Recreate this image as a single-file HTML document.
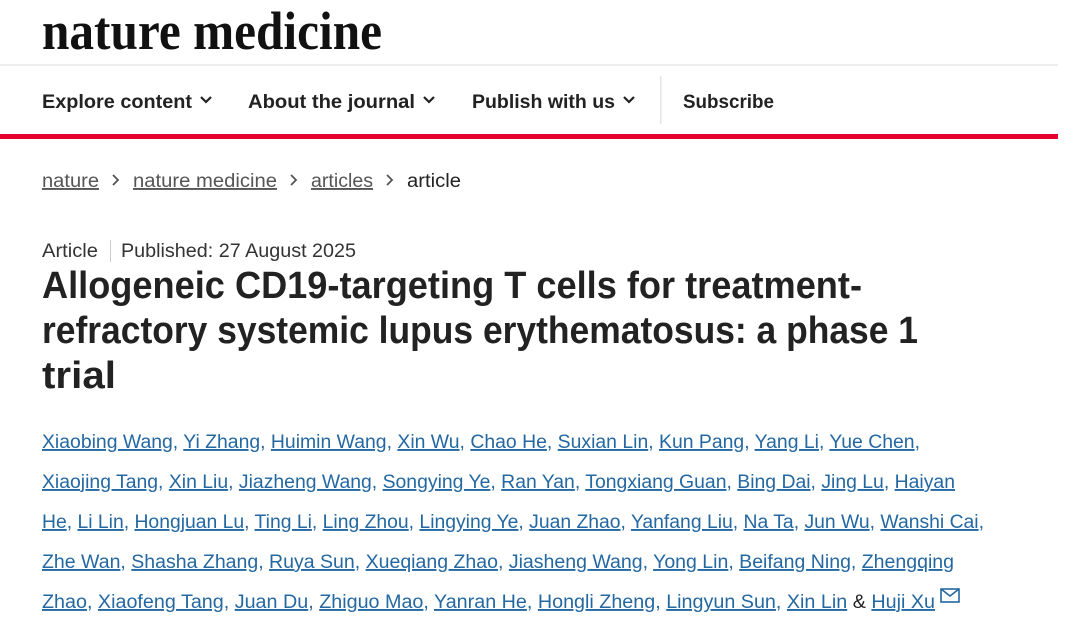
<!DOCTYPE html>
<html><head><meta charset="utf-8"><style>
html,body{margin:0;padding:0;background:#fff;width:1080px;height:620px;overflow:hidden}
svg text{font-family:"Liberation Sans",sans-serif}
.a{fill:#2468a2}
.a tspan.u{text-decoration:underline}
</style></head><body>
<svg width="1080" height="620" viewBox="0 0 1080 620" xmlns="http://www.w3.org/2000/svg">
<text x="42" y="49" font-weight="bold" font-size="54" textLength="340" lengthAdjust="spacingAndGlyphs" fill="#111" style="font-family:'Liberation Serif',serif">nature medicine</text>
<rect x="0" y="64" width="1058" height="2" fill="#eeeeee"/>
<g font-weight="bold" font-size="19" fill="#222">
<text x="42" y="108" textLength="150" lengthAdjust="spacingAndGlyphs">Explore content</text>
<text x="248" y="108" textLength="167" lengthAdjust="spacingAndGlyphs">About the journal</text>
<text x="472" y="108" textLength="143" lengthAdjust="spacingAndGlyphs">Publish with us</text>
<text x="683" y="108" textLength="91" lengthAdjust="spacingAndGlyphs">Subscribe</text>
</g>
<g fill="none" stroke="#222" stroke-width="2.2">
<path d="M201 97 l5 5 l5 -5"/><path d="M424 97 l5 5 l5 -5"/><path d="M624 97 l5 5 l5 -5"/>
</g>
<rect x="660" y="76" width="1.5" height="48" fill="#e4e4e4"/>
<rect x="0" y="134" width="1058" height="5" fill="#e4002b"/>
<g font-size="19">
<text x="42" y="187" fill="#555" textLength="57" lengthAdjust="spacingAndGlyphs" text-decoration="underline">nature</text>
<text x="133" y="187" fill="#555" textLength="144" lengthAdjust="spacingAndGlyphs" text-decoration="underline">nature medicine</text>
<text x="311" y="187" fill="#555" textLength="62" lengthAdjust="spacingAndGlyphs" text-decoration="underline">articles</text>
<text x="407" y="187" fill="#222" textLength="54" lengthAdjust="spacingAndGlyphs">article</text>
</g>
<g fill="none" stroke="#555" stroke-width="1.8">
<path d="M113 175 l5 5 l-5 5"/><path d="M291 175 l5 5 l-5 5"/><path d="M387 175 l5 5 l-5 5"/>
</g>
<text x="42" y="257" font-size="19" fill="#333" textLength="56" lengthAdjust="spacingAndGlyphs">Article</text>
<rect x="110" y="240" width="1" height="22" fill="#ccc"/>
<text x="121" y="257" font-size="19" fill="#333" textLength="235" lengthAdjust="spacingAndGlyphs">Published: 27 August 2025</text>
<g font-weight="bold" font-size="38" fill="#222">
<text x="42" y="298" textLength="820" lengthAdjust="spacingAndGlyphs">Allogeneic CD19-targeting T cells for treatment-</text>
<text x="42" y="343" textLength="876" lengthAdjust="spacingAndGlyphs">refractory systemic lupus erythematosus: a phase 1</text>
<text x="42" y="388" textLength="74" lengthAdjust="spacingAndGlyphs">trial</text>
</g>
<g font-size="19">
<text class="a" x="42" y="448" textLength="878" lengthAdjust="spacingAndGlyphs"><tspan class="u">Xiaobing Wang</tspan>, <tspan class="u">Yi Zhang</tspan>, <tspan class="u">Huimin Wang</tspan>, <tspan class="u">Xin Wu</tspan>, <tspan class="u">Chao He</tspan>, <tspan class="u">Suxian Lin</tspan>, <tspan class="u">Kun Pang</tspan>, <tspan class="u">Yang Li</tspan>, <tspan class="u">Yue Chen</tspan>,</text>
<text class="a" x="42" y="488" textLength="913" lengthAdjust="spacingAndGlyphs"><tspan class="u">Xiaojing Tang</tspan>, <tspan class="u">Xin Liu</tspan>, <tspan class="u">Jiazheng Wang</tspan>, <tspan class="u">Songying Ye</tspan>, <tspan class="u">Ran Yan</tspan>, <tspan class="u">Tongxiang Guan</tspan>, <tspan class="u">Bing Dai</tspan>, <tspan class="u">Jing Lu</tspan>, <tspan class="u">Haiyan</tspan></text>
<text class="a" x="42" y="528" textLength="942" lengthAdjust="spacingAndGlyphs"><tspan class="u">He</tspan>, <tspan class="u">Li Lin</tspan>, <tspan class="u">Hongjuan Lu</tspan>, <tspan class="u">Ting Li</tspan>, <tspan class="u">Ling Zhou</tspan>, <tspan class="u">Lingying Ye</tspan>, <tspan class="u">Juan Zhao</tspan>, <tspan class="u">Yanfang Liu</tspan>, <tspan class="u">Na Ta</tspan>, <tspan class="u">Jun Wu</tspan>, <tspan class="u">Wanshi Cai</tspan>,</text>
<text class="a" x="42" y="568" textLength="912" lengthAdjust="spacingAndGlyphs"><tspan class="u">Zhe Wan</tspan>, <tspan class="u">Shasha Zhang</tspan>, <tspan class="u">Ruya Sun</tspan>, <tspan class="u">Xueqiang Zhao</tspan>, <tspan class="u">Jiasheng Wang</tspan>, <tspan class="u">Yong Lin</tspan>, <tspan class="u">Beifang Ning</tspan>, <tspan class="u">Zhengqing</tspan></text>
<text class="a" x="42" y="608" textLength="893" lengthAdjust="spacingAndGlyphs"><tspan class="u">Zhao</tspan>, <tspan class="u">Xiaofeng Tang</tspan>, <tspan class="u">Juan Du</tspan>, <tspan class="u">Zhiguo Mao</tspan>, <tspan class="u">Yanran He</tspan>, <tspan class="u">Hongli Zheng</tspan>, <tspan class="u">Lingyun Sun</tspan>, <tspan class="u">Xin Lin</tspan> <tspan fill="#222">&amp;</tspan> <tspan class="u">Huji Xu</tspan></text>
</g>
<g fill="none" stroke="#2468a2" stroke-width="1.6">
<rect x="941" y="589" width="18" height="13"/><path d="M941 589 l9 7 l9 -7"/>
</g>
</svg>
</body></html>
